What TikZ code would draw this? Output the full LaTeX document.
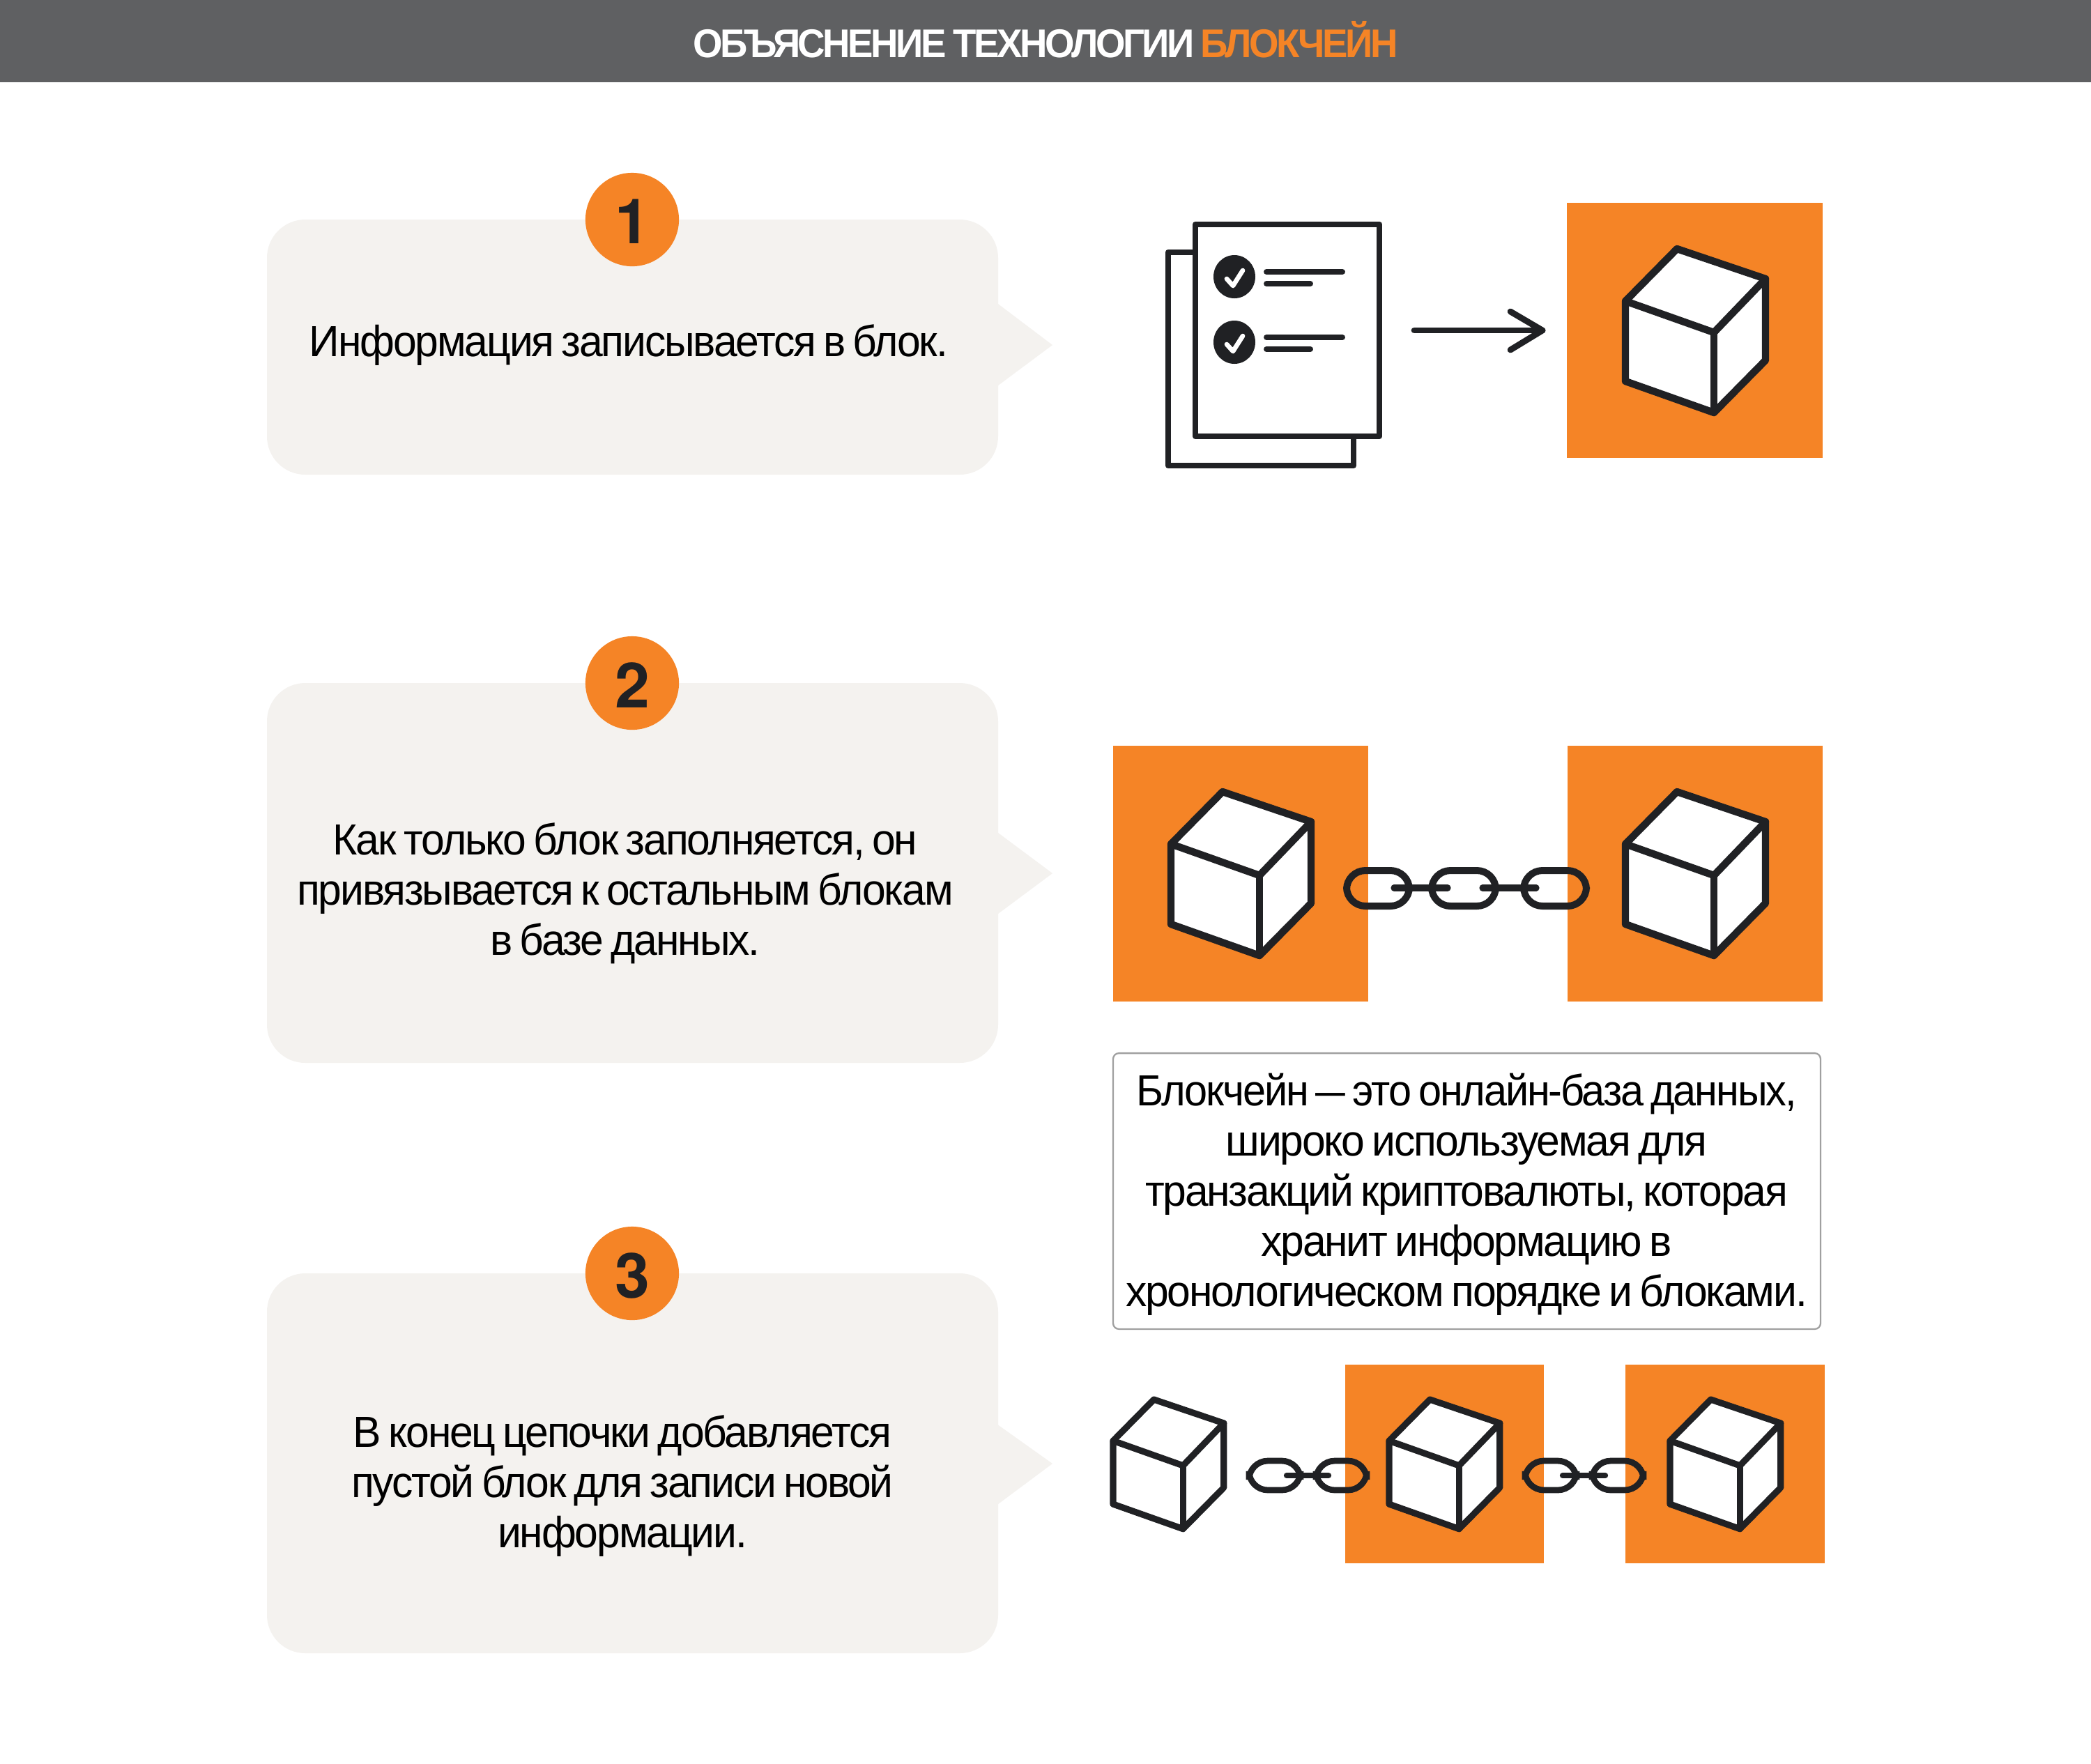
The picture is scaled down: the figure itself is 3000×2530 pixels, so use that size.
\documentclass[tikz,border=0pt]{standalone}
\usepackage{fontspec}
\usepackage{graphicx}
\setmainfont{Liberation Sans}[LetterSpace=-3.5,FakeStretch=0.97,WordSpace=0.7]
\newfontfamily\titlefont{Liberation Sans}[LetterSpace=-6,FakeStretch=0.95,WordSpace=0.8]
\newfontfamily\numfont{TeX Gyre Heros}
\definecolor{headgray}{HTML}{5F6062}
\definecolor{brandorange}{HTML}{F58426}
\definecolor{bubblefill}{HTML}{F4F2EF}
\definecolor{ink}{HTML}{202124}
\definecolor{boxline}{HTML}{A0A0A0}
\tikzset{
  x=0.24pt,y=-0.24pt,
  orangesq/.style={fill=brandorange,draw=none},
  bubble/.style={fill=bubblefill,draw=none,rounded corners=13.2pt},
  badge/.style={circle,fill=brandorange,draw=none,minimum size=32.2pt,inner sep=0pt},
  badgenum/.style={inner sep=0pt,text=ink,font=\numfont\bfseries\fontsize{21.5pt}{21.5pt}\selectfont},
  bodytext/.style={align=center,inner sep=0pt,text=black,font=\fontsize{15pt}{17.3pt}\selectfont},
  cubeline/.style={draw=ink,fill=white,line join=round,line cap=round},
  iconline/.style={draw=ink,line width=2.1pt,line cap=round,line join=round},
}
% cube: top-left corner of its bounding box at (#1,#2), scale #3, line width #4
\newcommand{\cubeat}[4]{%
  \begin{scope}[shift={(#1,#2)},scale=#3]
    \draw[cubeline,line width=#4] (0,75) -- (74,0) -- (201,43) -- (201,160) -- (127,235) -- (0,190) -- cycle;
    \draw[cubeline,fill=none,line width=#4] (0,75) -- (127,120) -- (201,43);
    \draw[cubeline,fill=none,line width=#4] (127,120) -- (127,235);
  \end{scope}}
\newcommand{\linkat}[5]{% x0,y0,x1,y1,line width
  \draw[draw=ink,line width=#5,rounded corners=6.5pt] (#1,#2) rectangle (#3,#4);}
\newcommand{\checkdoc}[1]{%
  \fill[ink] (1771,#1) ellipse [x radius=30,y radius=31];
  \draw[draw=white,line width=1.6pt,line cap=round,line join=round] (1760,#1+3) -- (1769,#1+13) -- (1783,#1-9);
  \draw[iconline,line width=1.9pt] (1817,#1-7) -- (1926,#1-7);
  \draw[iconline,line width=1.9pt] (1817,#1+10) -- (1880,#1+10);}
\begin{document}
\begin{tikzpicture}
\useasboundingbox (0,0) rectangle (3000,2530);
\fill[white] (0,0) rectangle (3000,2530);
% header
\fill[headgray] (0,0) rectangle (3000,118);
\node[inner sep=0pt,font=\titlefont\bfseries\fontsize{13.8pt}{16pt}\selectfont,text=white] (title) at (1500,57)
  {ОБЪЯСНЕНИЕ ТЕХНОЛОГИИ \textcolor{brandorange}{БЛОКЧЕЙН}};
% bubbles
\fill[bubblefill] (1420,427) -- (1510,495) -- (1420,562) -- cycle;
\fill[bubble] (383,315) rectangle (1432,681);
\fill[bubblefill] (1420,1186) -- (1510,1253) -- (1420,1320) -- cycle;
\fill[bubble] (383,980) rectangle (1432,1525);
\fill[bubblefill] (1420,2036) -- (1510,2100) -- (1420,2167) -- cycle;
\fill[bubble] (383,1827) rectangle (1432,2372);
\node[badge] (c1) at (907,315) {};
\node[badge] (c2) at (907,980) {};
\node[badge] (c3) at (907,1827) {};
\node[badgenum] (n1) at (907,318) {1};
\node[badgenum] (n2) at (907,983) {2};
\node[badgenum] (n3) at (907,1830) {3};
\node[bodytext] (t1) at (902,495) {Информация записывается в блок.};
\node[bodytext] (t2) at (897,1282) {Как только блок заполняется, он\\привязывается к остальным блокам\\в базе данных.};
\node[bodytext] (t3) at (893,2132) {В конец цепочки добавляется\\пустой блок для записи новой\\информации.};
% step 1 icons
\draw[draw=ink,line width=2.1pt,fill=white,line join=round] (1676,362) rectangle (1942,668);
\draw[draw=ink,line width=2.1pt,fill=white,line join=round] (1715,322) rectangle (1979,626);
\checkdoc{397}
\checkdoc{491}
\fill[orangesq] (2248,291) rectangle (2615,657);
\coordinate (arrowstart) at (2029,474);
\coordinate (arrowend) at (2213,474);
\draw[iconline] (arrowstart) -- (arrowend);
\draw[iconline] (2167,447) -- (arrowend) -- (2167,502);
\cubeat{2332}{357}{1}{2.5pt}
% step 2
\fill[orangesq] (1597,1070) rectangle (1963,1437);
\fill[orangesq] (2249,1070) rectangle (2615,1437);
\cubeat{1680}{1136}{1}{2.5pt}
\cubeat{2332}{1136}{1}{2.5pt}
\linkat{1932}{1249}{2022}{1300}{2.4pt}
\linkat{2054}{1249}{2146}{1300}{2.4pt}
\linkat{2186}{1249}{2276}{1300}{2.4pt}
\draw[iconline,line width=2.2pt] (2000,1274) -- (2077,1274);
\draw[iconline,line width=2.2pt] (2127,1274) -- (2204,1274);
% info box
\node[draw=boxline,line width=0.55pt,rounded corners=2pt,fill=white,minimum width=243.6pt,minimum height=95pt,inner sep=0pt] (infobox) at (2104.5,1709) {};
\node[bodytext] (info) at (2104,1714) {\scalebox{0.98}[1]{Блокчейн \scalebox{0.72}[1]{—} это онлайн-база данных,}\\широко используемая для\\транзакций криптовалюты, которая\\хранит информацию в\\хронологическом порядке и блоками.};
% step 3
\fill[orangesq] (1930,1958) rectangle (2215,2243);
\fill[orangesq] (2332,1958) rectangle (2618,2243);
\cubeat{1597}{2008}{0.79}{2.2pt}
\cubeat{1993}{2008}{0.79}{2.2pt}
\cubeat{2396}{2008}{0.79}{2.2pt}
\linkat{1792}{2096}{1866}{2138}{2.1pt}
\linkat{1888}{2096}{1961}{2138}{2.1pt}
\draw[iconline,line width=2pt] (1846,2117) -- (1906,2117);
\linkat{2188}{2096}{2262}{2138}{2.1pt}
\linkat{2284}{2096}{2358}{2138}{2.1pt}
\draw[iconline,line width=2pt] (2242,2117) -- (2303,2117);
\end{tikzpicture}
\end{document}
